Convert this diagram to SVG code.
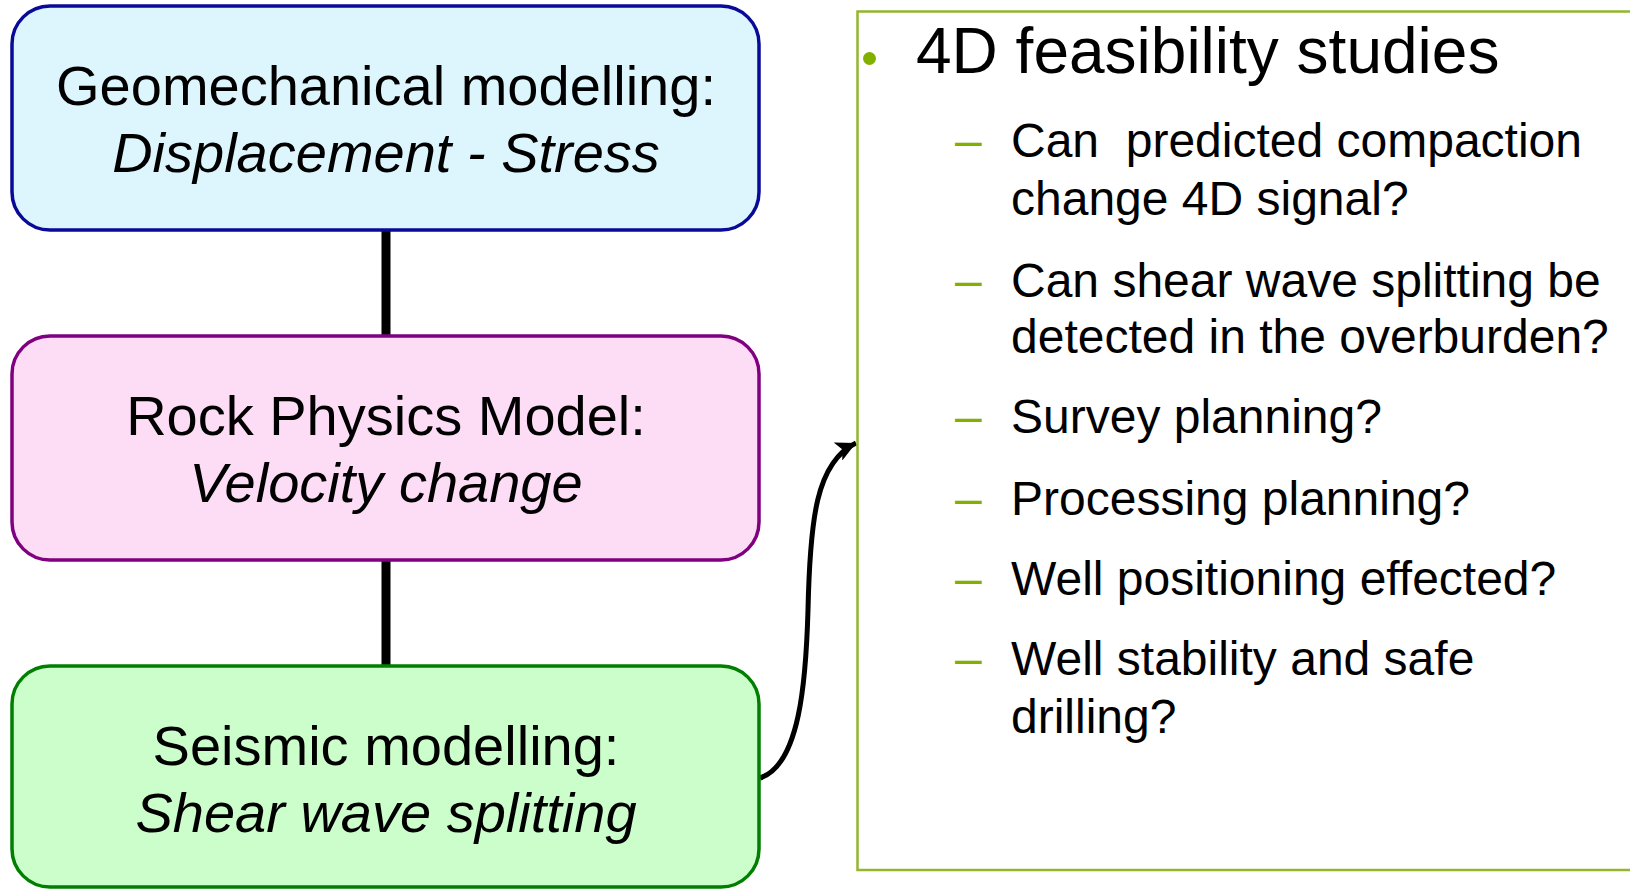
<svg xmlns="http://www.w3.org/2000/svg" width="1630" height="890" viewBox="0 0 1630 890">
<defs>
<style>
text{font-family:"Liberation Sans",Arial,sans-serif;fill:#000;white-space:pre}
.node text{font-size:56px;text-anchor:middle}
.it{font-style:italic}
.item{font-size:48px}
.dash{fill:#82B000;font-size:48px}
.link{stroke:#000;stroke-width:9;fill:none}
</style>
<marker id="ah" markerUnits="userSpaceOnUse" markerWidth="24" markerHeight="20" refX="20" refY="10" orient="auto">
<path d="M0,0 L20,10 L0,20 L5,10 Z" fill="#000"/>
</marker>
</defs>
<rect width="1630" height="890" fill="#fff"/>
<g id="connectors">
<line class="link" x1="386" y1="230" x2="386" y2="336"/>
<line class="link" x1="386" y1="560" x2="386" y2="666"/>
<path d="M760,778 C800,765 806,680 808,610 C810,520 816,462 856,443" fill="none" stroke="#000" stroke-width="5" marker-end="url(#ah)"/>
</g>
<g id="geomech" class="node">
<rect x="12" y="6" width="747" height="224" rx="38" fill="#DDF6FE" stroke="#0A0A99" stroke-width="3.5"/>
<text x="386" y="105">Geomechanical modelling:</text>
<text x="386" y="172" class="it">Displacement - Stress</text>
</g>
<g id="rockphysics" class="node">
<rect x="12" y="336" width="747" height="224" rx="38" fill="#FDDCF6" stroke="#800080" stroke-width="3.5"/>
<text x="386" y="435">Rock Physics Model:</text>
<text x="386" y="502" class="it">Velocity change</text>
</g>
<g id="seismic" class="node">
<rect x="12" y="666" width="747" height="221" rx="38" fill="#CCFECC" stroke="#007F00" stroke-width="3.5"/>
<text x="386" y="765">Seismic modelling:</text>
<text x="386" y="832" class="it">Shear wave splitting</text>
</g>
<g id="feasibility">
<rect x="857.5" y="11.5" width="800" height="858.5" fill="#fff" stroke="#94B62E" stroke-width="2.5"/>
<circle cx="869.5" cy="58.5" r="6.5" fill="#82B000"/>
<text x="916" y="73" font-size="64">4D feasibility studies</text>
<text x="955" y="157" class="dash">–</text>
<text x="1011" y="157" class="item">Can  predicted compaction</text>
<text x="1011" y="215" class="item">change 4D signal?</text>
<text x="955" y="297" class="dash">–</text>
<text x="1011" y="297" class="item">Can shear wave splitting be</text>
<text x="1011" y="353" class="item">detected in the overburden?</text>
<text x="955" y="433" class="dash">–</text>
<text x="1011" y="433" class="item">Survey planning?</text>
<text x="955" y="515" class="dash">–</text>
<text x="1011" y="515" class="item">Processing planning?</text>
<text x="955" y="595" class="dash">–</text>
<text x="1011" y="595" class="item">Well positioning effected?</text>
<text x="955" y="675" class="dash">–</text>
<text x="1011" y="675" class="item">Well stability and safe</text>
<text x="1011" y="733" class="item">drilling?</text>
</g>
</svg>
